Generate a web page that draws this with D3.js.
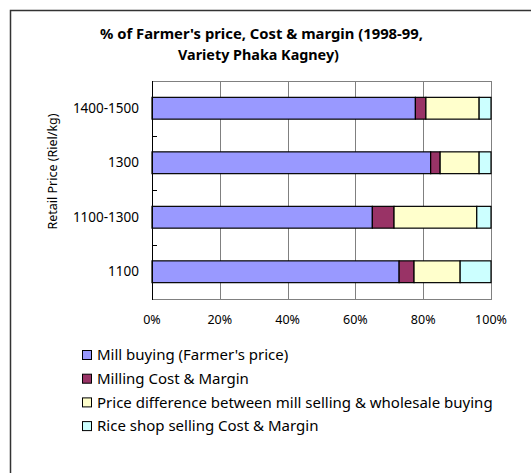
<!DOCTYPE html>
<html><head><meta charset="utf-8">
<script src="https://cdn.jsdelivr.net/npm/d3@7/dist/d3.min.js"></script>
<style>body{margin:0;background:#fff}svg{display:block}text{font-family:"Noto Sans","DejaVu Sans",sans-serif;fill:#000}</style>
</head><body>
<script>
const categories = ["1400-1500", "1300", "1100-1300", "1100"];
const seriesNames = ["Mill buying (Farmer's price)", "Milling Cost & Margin", "Price difference between mill selling & wholesale buying", "Rice shop selling Cost & Margin"];
const millBuying   = [77.7, 82.2, 65.0, 72.9];
const millingCost  = [3.1, 2.8, 6.4, 4.4];
const priceDiff    = [15.7, 11.5, 24.4, 13.6];
const riceShop     = [3.5, 3.5, 4.2, 9.1];
const xTicks = [0, 20, 40, 60, 80, 100];
const colors = ["#9999FF", "#993366", "#FFFFCC", "#CCFFFF"];

(function () {
const W = 531, H = 473;
const svg = d3.select("body").append("svg").attr("width", W).attr("height", H);

function fit(sel, refNode, target, base) {
  sel.attr("font-size", base);
  const w = refNode.getComputedTextLength();
  sel.attr("font-size", base * target / w);
}

// outer frame
svg.append("rect").attr("x", 10.5).attr("y", 10.5).attr("width", 540).attr("height", 480)
  .attr("fill", "none").attr("stroke", "#333").attr("stroke-width", 1.5);

// title
const t1 = svg.append("text").attr("text-anchor", "middle").attr("font-weight", "bold")
  .attr("x", 261.5).attr("y", 39).text("% of Farmer's price, Cost & margin (1998-99,");
const t2 = svg.append("text").attr("text-anchor", "middle").attr("font-weight", "bold")
  .attr("x", 258.5).attr("y", 60).text("Variety Phaka Kagney)");
fit(t1, t1.node(), 323, 12);
fit(t2, t2.node(), 161, 12);

const pl = 152, pr = 491, pt = 81, pb = 299;
const x = d3.scaleLinear().domain([0, 100]).range([pl, pr]);
const y = d3.scaleBand().domain(categories).range([pt, pb]).paddingInner(0.6).paddingOuter(0.3);
const yb = d3.scaleBand().domain(categories).range([pt, pb]);

// gridlines
svg.append("g").selectAll("line").data(xTicks.slice(1)).join("line")
  .attr("x1", d => Math.round(x(d)) + 0.5).attr("x2", d => Math.round(x(d)) + 0.5)
  .attr("y1", pt).attr("y2", pb).attr("stroke", "#808080").attr("stroke-width", 1);
svg.append("line").attr("x1", pl).attr("x2", pr + 1).attr("y1", pt + 0.5).attr("y2", pt + 0.5).attr("stroke", "#808080");
svg.append("line").attr("x1", pl).attr("x2", pr + 1).attr("y1", pb + 0.5).attr("y2", pb + 0.5).attr("stroke", "#808080");

// stacked bars
const rows = categories.map((c, i) => ({ cat: c, vals: [millBuying[i], millingCost[i], priceDiff[i], riceShop[i]] }));
const stackData = [];
rows.forEach(r => {
  let acc = 0;
  r.vals.forEach((v, k) => { stackData.push({ cat: r.cat, k, x0: acc, x1: acc + v }); acc += v; });
});
svg.append("g").selectAll("rect").data(stackData).join("rect")
  .attr("x", d => x(d.x0)).attr("width", d => x(d.x1) - x(d.x0))
  .attr("y", d => y(d.cat)).attr("height", y.bandwidth())
  .attr("fill", d => colors[d.k]).attr("stroke", "#000").attr("stroke-width", 1.2);

// y axis
svg.append("line").attr("x1", pl + 0.5).attr("x2", pl + 0.5).attr("y1", pt).attr("y2", pb + 1).attr("stroke", "#000");
svg.append("g").selectAll("line").data(categories.slice(1)).join("line")
  .attr("x1", pl).attr("x2", pl + 5)
  .attr("y1", d => Math.round(yb(d)) + 0.5).attr("y2", d => Math.round(yb(d)) + 0.5).attr("stroke", "#000");
svg.append("g").selectAll("text").data(categories).join("text")
  .attr("x", 139).attr("y", d => y(d) + y.bandwidth() / 2).attr("dy", "0.35em")
  .attr("text-anchor", "end").attr("font-size", 13.5).text(d => d);

// x labels
svg.append("g").selectAll("text").data(xTicks).join("text")
  .attr("x", d => x(d)).attr("y", 320).attr("dy", "0.35em")
  .attr("text-anchor", "middle").attr("font-size", 12.5).text(d => d + "%");

// y title
svg.append("text").attr("transform", "translate(53,171.5) rotate(-90)")
  .attr("text-anchor", "middle").attr("dy", "0.35em").attr("font-size", 12.5).text("Retail Price (Riel/kg)");

// legend
const lg = svg.append("g").selectAll("g").data(seriesNames).join("g")
  .attr("transform", (d, i) => `translate(82,${355 + i * 23.7})`);
lg.append("rect").attr("x", 0.5).attr("y", -4.5).attr("width", 9).attr("height", 9)
  .attr("fill", (d, i) => colors[i]).attr("stroke", "#000");
const lt = lg.append("text").attr("x", 15).attr("dy", "0.35em").text(d => d);
fit(lt, lt.nodes()[2], 396, 13);
})();
</script>
</body></html>
